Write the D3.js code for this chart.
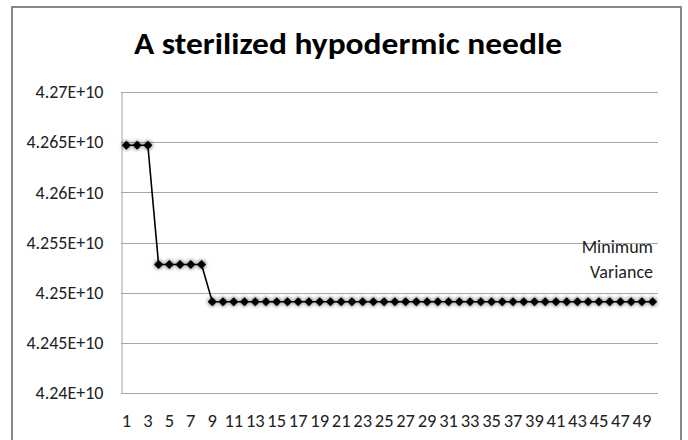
<!DOCTYPE html>
<html><head><meta charset="utf-8">
<script src="https://cdn.jsdelivr.net/npm/d3@7"></script>
<style>body{margin:0;background:#fff}svg{display:block}text{font-family:Carlito,Lato,"Liberation Sans",sans-serif}</style>
</head><body><svg id="c" width="688" height="440"></svg>
<script>
const categories = d3.range(1, 51).map(String);
const seriesName = "Minimum Variance";
const valuesHead = [4.2647e10, 4.2647e10, 4.2647e10, 4.2528e10, 4.2528e10, 4.2528e10, 4.2528e10, 4.2528e10];
const valuesTail = [4.2491e10,4.2491e10,4.2491e10,4.2491e10,4.2491e10,4.2491e10,4.2491e10,4.2491e10,4.2491e10,4.2491e10,
4.2491e10,4.2491e10,4.2491e10,4.2491e10,4.2491e10,4.2491e10,4.2491e10,4.2491e10,4.2491e10,4.2491e10,
4.2491e10,4.2491e10,4.2491e10,4.2491e10,4.2491e10,4.2491e10,4.2491e10,4.2491e10,4.2491e10,4.2491e10,
4.2491e10,4.2491e10,4.2491e10,4.2491e10,4.2491e10,4.2491e10,4.2491e10,4.2491e10,4.2491e10,4.2491e10,
4.2491e10,4.2491e10];
const values = valuesHead.concat(valuesTail);
const yTicks = [4.24e10, 4.245e10, 4.25e10, 4.255e10, 4.26e10, 4.265e10, 4.27e10];
const yTickLabels = ["4.24E+10","4.245E+10","4.25E+10","4.255E+10","4.26E+10","4.265E+10","4.27E+10"];
const title = "A sterilized hypodermic needle";

const svg = d3.select("#c");
const defs = svg.append("defs");
const f = defs.append("filter").attr("id","glow").attr("x","-50%").attr("y","-50%").attr("width","200%").attr("height","200%");
f.append("feGaussianBlur").attr("in","SourceAlpha").attr("stdDeviation",2).attr("result","b");
f.append("feComponentTransfer").attr("in","b").attr("result","g")
  .append("feFuncA").attr("type","linear").attr("slope",0.8);
const fm = f.append("feMerge");
fm.append("feMergeNode").attr("in","g");
fm.append("feMergeNode").attr("in","SourceGraphic");

// outer frame
svg.append("path").attr("d","M12,442 L12,7 L681,7 L681,442").attr("fill","none").attr("stroke","#888").attr("stroke-width",2);

const L=121, R=658, T=92, B=393;
const x = d3.scaleBand().domain(categories).range([L,R]);
const y = d3.scaleLinear().domain([4.24e10,4.27e10]).range([B,T]);

// gridlines
svg.append("g").selectAll("line").data(yTicks).join("line")
  .attr("x1",L).attr("x2",R).attr("y1",d=>Math.round(y(d))+0.5).attr("y2",d=>Math.round(y(d))+0.5)
  .attr("stroke","#a6a6a6").attr("stroke-width",1);

// y axis
const yAxis = d3.axisLeft(y).tickValues(yTicks).tickFormat((d,i)=>yTickLabels[i]).tickSize(0).tickPadding(18);
const gy = svg.append("g").attr("transform",`translate(${L+0.5},0)`).call(yAxis);
gy.select(".domain").attr("stroke","#a6a6a6");
gy.selectAll("text").attr("font-size",18).attr("fill","#222");

// x axis
const xAxis = d3.axisBottom(x).tickValues(categories.filter((d,i)=>i%2===0)).tickSize(0).tickPadding(20);
const gx = svg.append("g").attr("transform",`translate(0,${B+0.5})`).call(xAxis);
gx.select(".domain").attr("stroke","#a6a6a6").attr("d",`M${L},0H${R}`);
gx.selectAll("text").attr("font-size",18.5).attr("fill","#222");

// line
const cx = i => x(categories[i]) + x.bandwidth()/2;
const line = d3.line().x((d,i)=>cx(i)).y(d=>y(d));
svg.append("path").datum(values).attr("d",line).attr("fill","none").attr("stroke","#000").attr("stroke-width",1.6);

// markers
svg.append("g").attr("filter","url(#glow)").selectAll("path").data(values).join("path")
  .attr("d",d3.symbol(d3.symbolDiamond2, 52))
  .attr("transform",(d,i)=>`translate(${cx(i)},${y(d)})`)
  .attr("fill","#000");

// title
svg.append("text").attr("x",348).attr("y",54).attr("text-anchor","middle")
  .attr("font-size",31).attr("font-weight","bold").attr("fill","#000")
  .attr("textLength",428).attr("lengthAdjust","spacingAndGlyphs").text(title);

// legend
const words = seriesName.split(" ");
svg.append("g").selectAll("text").data(words).join("text")
  .attr("x",653).attr("y",(d,i)=>253+i*25).attr("text-anchor","end")
  .attr("font-size",18).attr("fill","#222").text(d=>d);
</script></body></html>
